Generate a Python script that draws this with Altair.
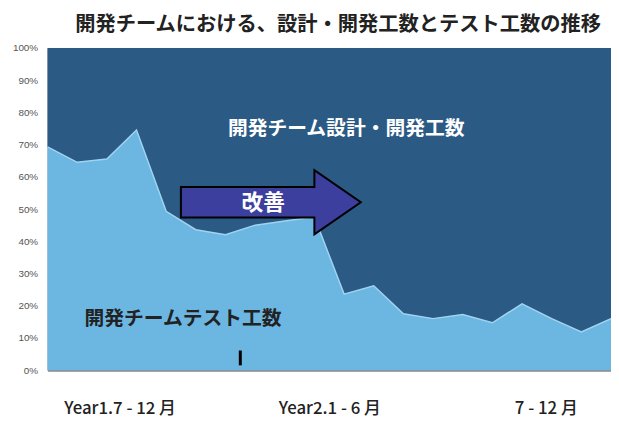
import altair as alt
import pandas as pd

# Data: share of test effort (%) per period index; design/dev = 100 - test
idx = list(range(20))
test_pct = [69.3, 64.5, 65.5, 74.5, 49.3, 43.6, 42.0, 45.0, 46.3, 47.5,
            23.6, 26.2, 17.5, 16.0, 17.3, 14.7, 20.6, 16.0, 11.9, 16.0]
series_names = ["開発チームテスト工数", "開発チーム設計・開発工数"]
x_label_pos = [2.43, 9.5, 16.8]
x_label_text = ["Year1.7 - 12 月", "Year2.1 - 6 月", "7 - 12 月"]
y_ticks = [0, 10, 20, 30, 40, 50, 60, 70, 80, 90, 100]

FONT = "Noto Sans CJK JP"
LIGHT = "#6cb6e2"
DARK = "#2b5a85"

rows = []
for i, t in zip(idx, test_pct):
    rows.append({"i": i, "series": series_names[0], "v": t, "order": 0})
    rows.append({"i": i, "series": series_names[1], "v": 100 - t, "order": 1})
df = pd.DataFrame(rows)
line_df = pd.DataFrame({"i": idx, "v": test_pct})

label_map = "{" + ",".join(f"'{p}':'{t}'" for p, t in zip(x_label_pos, x_label_text)) + "}"

x_scale = alt.Scale(domain=[0, 19], nice=False, zero=False)
y_scale = alt.Scale(domain=[0, 100], nice=False)

x_axis = alt.Axis(values=x_label_pos, labelExpr=f"{label_map}[datum.value + '']",
                  ticks=False, grid=False, title=None, labelFont=FONT, labelFontSize=17,
                  labelFontWeight=500, labelColor="#222", labelPadding=31,
                  domainColor="#8a8a8a", domainWidth=2, labelFlush=False, labelOverlap=False)
y_axis = alt.Axis(values=y_ticks, labelExpr="datum.value + '%'", ticks=False, grid=False,
                  title=None, labelFont="Liberation Sans", labelFontSize=10,
                  labelColor="#555", labelPadding=10, domainColor="#9a9a9a", domainWidth=1,
                  labelOverlap=False, labelFlush=False, tickCount=11)


def X(field="i:Q"):
    return alt.X(field, scale=x_scale, axis=x_axis)


def Y(field="v:Q", **kw):
    return alt.Y(field, scale=y_scale, axis=y_axis, **kw)


area = alt.Chart(df).mark_area(opacity=1).encode(
    x=X(), y=Y(stack="zero"),
    color=alt.Color("series:N", scale=alt.Scale(domain=series_names, range=[LIGHT, DARK]), legend=None),
    order=alt.Order("order:Q"),
)

edge = alt.Chart(line_df).mark_line(color="#9fd3f0", strokeWidth=1.5).encode(x=X(), y=Y())

# annotations
ann_df = pd.DataFrame({
    "i": [10.07, 4.57],
    "v": [74.8, 16.0],
    "t": [series_names[1], series_names[0]],
    "c": ["#ffffff", "#222222"],
})
ann = alt.Chart(ann_df).mark_text(font=FONT, fontSize=20, fontWeight="bold", baseline="middle").encode(
    x=X(), y=Y(), text="t:N", color=alt.Color("c:N", scale=None))

arrow_df = pd.DataFrame({"i": [7.53], "v": [52.1]})
arrow_path = "M -1 -0.17 L 0.484 -0.17 L 0.484 -0.357 L 1 0 L 0.484 0.357 L 0.484 0.17 L -1 0.17 Z"
arrow = alt.Chart(arrow_df).mark_point(shape=arrow_path, size=33124, filled=True,
                                       fill="#3c3f9e", stroke="#000", strokeWidth=2,
                                       opacity=1).encode(x=X(), y=Y())

arrow_txt_df = pd.DataFrame({"i": [7.27], "v": [51.8], "t": ["改善"]})
arrow_txt = alt.Chart(arrow_txt_df).mark_text(font=FONT, fontSize=22, fontWeight="bold",
                                              color="white", baseline="middle").encode(
    x=X(), y=Y(), text="t:N")

tick_df = pd.DataFrame({"i": [6.5], "v": [1.5], "v2": [6.1]})
tick = alt.Chart(tick_df).mark_rule(color="#000", strokeWidth=3).encode(
    x=X(), y=Y(), y2="v2:Q")

chart = alt.layer(area, edge, ann, arrow, arrow_txt, tick).properties(
    width=570, height=326,
    title=alt.TitleParams("開発チームにおける、設計・開発工数とテスト工数の推移",
                          font=FONT, fontSize=20.5, fontWeight="bold", color="#222",
                          offset=8, dx=9, anchor="middle", frame="group"),
    autosize=alt.AutoSizeParams(type="none"),
    padding={"left": 40, "top": 38, "right": 0, "bottom": 46},
).configure_view(stroke=None).configure(background="white")

chart.save("out.html", embed_options={"renderer": "svg", "actions": False})
